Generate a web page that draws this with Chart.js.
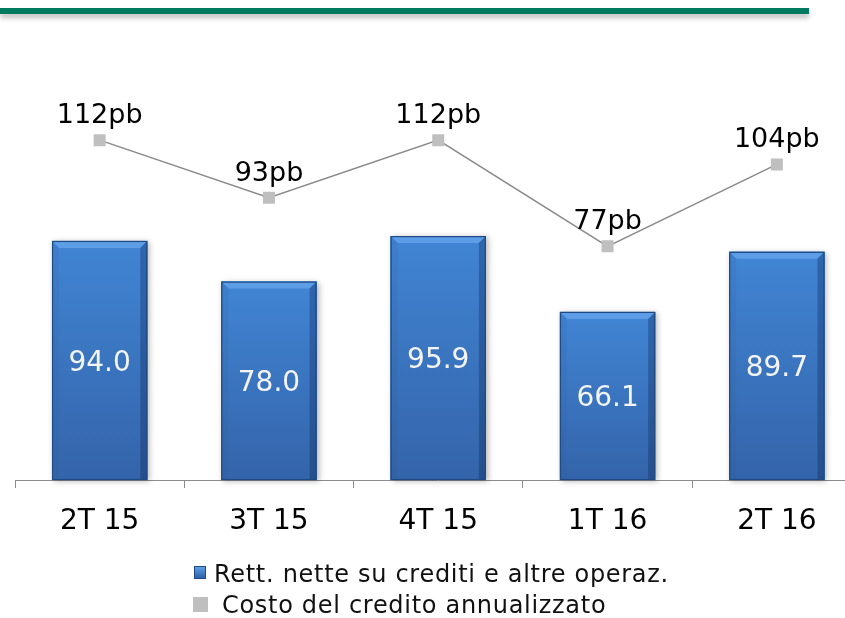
<!DOCTYPE html>
<html>
<head>
<meta charset="utf-8">
<script src="https://cdn.jsdelivr.net/npm/chart.js@4.4.1/dist/chart.umd.min.js"></script>
<style>
  html, body { margin: 0; padding: 0; background: #fff; overflow: hidden; width: 845px; height: 618px; }
  #wrap { position: absolute; left: 0; top: 0; width: 870px; height: 618px; }
  #topbar { position: absolute; left: 0; top: 8px; width: 809px; height: 6px; background: #007a5e;
            box-shadow: 0 4px 5px rgba(0,0,0,0.25); }
  .leg { position: absolute; font-family: 'DejaVu Sans'; font-size: 24px; line-height: 24px;
         color: #111; letter-spacing: 0.7px; white-space: nowrap; }
  .sq { position: absolute; }
</style>
</head>
<body>
<div id="topbar"></div>
<div id="wrap"><canvas id="chart" width="870" height="618"></canvas></div>

<div class="sq" style="left:194px;top:566px;width:12px;height:13px;background:linear-gradient(#5d9ee6,#2f62a6);border:1px solid #1e4a85;box-sizing:border-box"></div>
<div class="leg" style="left:214px;top:562px">Rett. nette su crediti e altre operaz.</div>
<div class="sq" style="left:193px;top:597px;width:15px;height:15px;background:#bfbfbf"></div>
<div class="leg" style="left:222px;top:593px">Costo del credito annualizzato</div>

<script>
const FONT = 'DejaVu Sans';

// data
const categories = ['2T 15', '3T 15', '4T 15', '1T 16', '2T 16'];
const rettifiche = [94.0, 78.0, 95.9, 66.1, 89.7];
const costoCredito = [112, 93, 112, 77, 104];

// gives the flat bars a bevelled look like the original
const barStyle = {
  id: 'barStyle',
  afterDatasetDraw(chart, args) {
    if (args.index !== 0) return;
    const ctx = chart.ctx;
    args.meta.data.forEach(bar => {
      const { x, y, base, width } = bar.getProps(['x', 'y', 'base', 'width'], true);
      const l = x - width / 2, r = x + width / 2, t = y, b = base, e = 7;

      ctx.save();
      ctx.shadowColor = 'rgba(0,0,0,0.3)';
      ctx.shadowBlur = 6;
      ctx.shadowOffsetX = 2;
      ctx.shadowOffsetY = 1;
      const g = ctx.createLinearGradient(0, t, 0, b);
      g.addColorStop(0, '#4185d4');
      g.addColorStop(1, '#3464aa');
      ctx.fillStyle = g;
      ctx.fillRect(l, t, width, b - t);
      ctx.restore();

      ctx.save();
      // top bevel
      ctx.fillStyle = '#5c9de6';
      ctx.beginPath();
      ctx.moveTo(l, t); ctx.lineTo(r, t); ctx.lineTo(r - e, t + e); ctx.lineTo(l + e, t + e);
      ctx.closePath(); ctx.fill();
      // left bevel
      const gl = ctx.createLinearGradient(0, t, 0, b);
      gl.addColorStop(0, '#3e7fcc'); gl.addColorStop(1, '#3262a5');
      ctx.fillStyle = gl;
      ctx.beginPath();
      ctx.moveTo(l, t); ctx.lineTo(l + e, t + e); ctx.lineTo(l + e, b); ctx.lineTo(l, b);
      ctx.closePath(); ctx.fill();
      // right bevel
      const gr = ctx.createLinearGradient(0, t, 0, b);
      gr.addColorStop(0, '#2f65ad'); gr.addColorStop(1, '#264f8a');
      ctx.fillStyle = gr;
      ctx.beginPath();
      ctx.moveTo(r, t); ctx.lineTo(r - e, t + e); ctx.lineTo(r - e, b); ctx.lineTo(r, b);
      ctx.closePath(); ctx.fill();
      // outline
      ctx.strokeStyle = '#1e4a85';
      ctx.lineWidth = 1.2;
      ctx.strokeRect(l + 0.5, t + 0.5, width - 1, b - t - 1);
      ctx.restore();
    });
  }
};

const valueLabels = {
  id: 'valueLabels',
  afterDatasetsDraw(chart) {
    const ctx = chart.ctx;
    ctx.save();
    ctx.textAlign = 'center';

    const bars = chart.getDatasetMeta(0).data;
    ctx.fillStyle = '#f4f4f4';
    ctx.font = '28px "' + FONT + '"';
    ctx.textBaseline = 'middle';
    bars.forEach((bar, i) => {
      const { y, base } = bar.getProps(['y', 'base'], true);
      ctx.fillText(rettifiche[i].toFixed(1), bar.x, (y + base) / 2 + 3);
    });

    const pts = chart.getDatasetMeta(1).data;
    ctx.fillStyle = '#000';
    ctx.font = '27px "' + FONT + '"';
    ctx.textBaseline = 'alphabetic';
    pts.forEach((p, i) => {
      ctx.fillText(costoCredito[i] + 'pb', p.x, p.y - 17);
    });
    ctx.restore();
  }
};

new Chart(document.getElementById('chart'), {
  data: {
    labels: categories,
    datasets: [
      {
        type: 'bar',
        label: 'Rett. nette su crediti e altre operaz.',
        data: rettifiche,
        yAxisID: 'y',
        backgroundColor: '#3b77c3',
        borderWidth: 0,
        barPercentage: 0.5625,
        categoryPercentage: 1,
        order: 1
      },
      {
        type: 'line',
        label: 'Costo del credito annualizzato',
        data: costoCredito,
        yAxisID: 'y2',
        borderColor: '#8a8a8a',
        borderWidth: 1.5,
        pointStyle: 'rect',
        pointRadius: 8.5,
        pointBackgroundColor: '#bfbfbf',
        pointBorderColor: '#bfbfbf',
        pointBorderWidth: 0,
        order: 0
      }
    ]
  },
  options: {
    responsive: false,
    animation: false,
    layout: { padding: { left: 15, right: 1.5, top: 40, bottom: 0 } },
    plugins: {
      legend: { display: false },
      tooltip: { enabled: false }
    },
    scales: {
      x: {
        grid: { drawOnChartArea: false, tickLength: 8, color: '#8c8c8c', offset: true },
        border: { color: '#8c8c8c', width: 1 },
        ticks: { color: '#000', font: { family: FONT, size: 28 }, padding: 17 },
        afterFit(scale) { scale.height = 138; }
      },
      y: { display: false, min: 0, max: 173 },
      y2: { display: false, position: 'right', min: 0, max: 145 }
    }
  },
  plugins: [barStyle, valueLabels]
});
</script>
</body>
</html>
